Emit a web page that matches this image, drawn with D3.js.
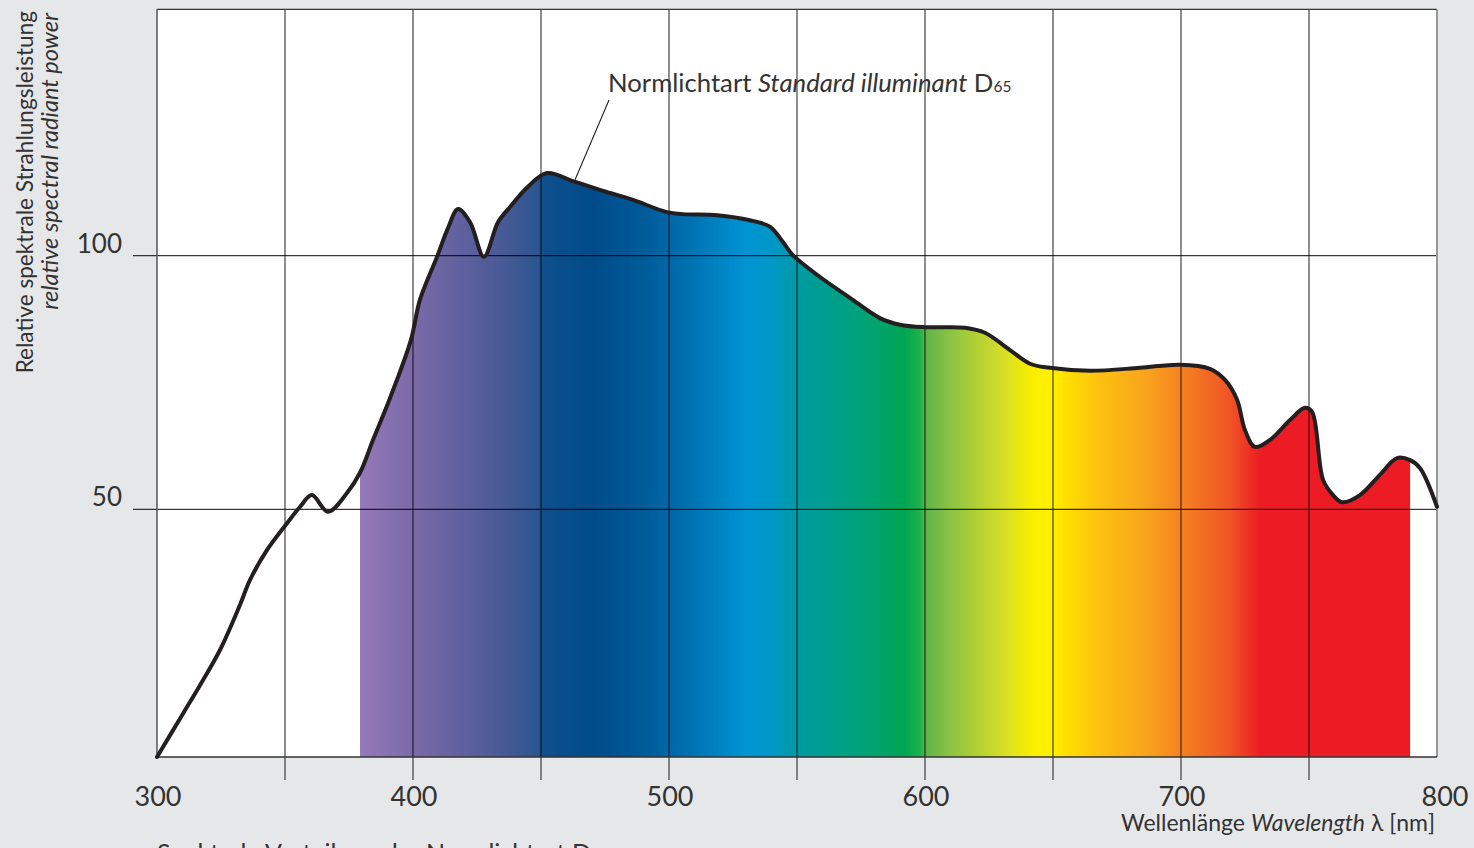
<!DOCTYPE html>
<html>
<head>
<meta charset="utf-8">
<script src="https://cdn.jsdelivr.net/npm/d3@7"></script>
<style>
  html, body { margin: 0; padding: 0; background: #e6e7e9; }
  svg { display: block; }
  text { font-family: Lato, "Open Sans", sans-serif; fill: #333; }
</style>
</head>
<body>
<svg id="chart" width="1474" height="848"></svg>
<script>
// ---- data ----
const wavelengths = [300,310.2,316.8,324.6,332.4,336.3,343,350.8,355.9,360.5,366.8,374.2,379.3,384.4,391,399.2,402.7,409.4,413.7,417.6,422.3,427.7,433.2,437.9,444.5,452.3,462.5,473,485.9,499.2,505.5,518.8,531.6,539.5,544.5,548.4,559,570.7,582.4,590.2,600,615.6,623.4,633.2,641,648.8,664.5,684,699.6,711.3,717.2,721.9,725,728.9,734.8,742.6,748.4,751.2,755.5,759.4,762.9,769.9,777.7,784.4,789.5,793.4,800];
const power = [0,8.8,14.5,21.6,30.7,35.7,41.8,47.2,50.5,52.8,49.5,53.2,57.2,63.7,71.9,83.4,91.3,99.8,105.5,109.2,106.6,99.8,106.6,109.6,113.4,116.3,114.7,113.0,111.0,108.6,108.2,108.0,107.0,105.7,102.7,100.1,95.8,91.7,87.7,86.4,85.9,85.8,84.8,81.4,78.7,77.9,77.3,77.9,78.5,77.7,75.5,71.6,65.6,62.3,63.7,67.6,70.0,69.2,55.8,52.8,51.4,52.8,56.8,60.1,59.7,58.1,50.5];

const xTickValues = [350,400,450,500,550,600,650,700,750];
const xLabelValues = [300,400,500,600,700,800];
const yTickValues = [50,100];

const visibleRange = [379.3, 789.5]; // visible-light part that is coloured
const spectrumStops = [
  [380,"#9379b8"],[400,"#7b6aa8"],[420,"#5f609e"],[440,"#3f5893"],[449,"#2a5590"],
  [451,"#0e508d"],[470,"#004b89"],[490,"#005b99"],[510,"#0074b4"],[530,"#0094d2"],
  [540,"#0097c8"],[550,"#009ba3"],[575,"#00a27a"],[592,"#00a553"],[598,"#1db34a"],
  [600,"#5eb34a"],[610,"#8cc342"],[630,"#d4dd28"],[642,"#fbef00"],[650,"#fff100"],
  [655,"#ffdf00"],[668,"#fdc110"],[688,"#f8a01f"],[700,"#f58220"],[719,"#ef5524"],
  [731,"#ed1c24"],[790,"#ed1c24"]
];

const annotationNm = 463.3;

(function () {
// ---- layout ----
const svg = d3.select("#chart");
const pLeft = 157, pRight = 1437, pTop = 9.3, pBottom = 757;

const x = d3.scaleLinear().domain([300, 800]).range([pLeft, pRight]);
const y = d3.scaleLinear().domain([0, 50, 100, 148.6]).range([pBottom, 509.3, 255.7, pTop]);

const data = wavelengths.map((w, i) => ({w, v: power[i]}));

// plot background
svg.append("rect").attr("x", pLeft).attr("y", pTop)
  .attr("width", pRight - pLeft).attr("height", pBottom - pTop).attr("fill", "#fff");

// gradient
const defs = svg.append("defs");
const grad = defs.append("linearGradient").attr("id", "spec")
  .attr("gradientUnits", "userSpaceOnUse")
  .attr("x1", x(380)).attr("x2", x(790)).attr("y1", 0).attr("y2", 0);
spectrumStops.forEach(([w, c]) => {
  grad.append("stop").attr("offset", (w - 380) / (790 - 380)).attr("stop-color", c);
});
defs.append("clipPath").attr("id", "visclip").append("rect")
  .attr("x", x(visibleRange[0])).attr("y", pTop)
  .attr("width", x(visibleRange[1]) - x(visibleRange[0])).attr("height", pBottom - pTop);

const curve = d3.curveCatmullRom.alpha(0.5);
const area = d3.area().x(d => x(d.w)).y0(y(0)).y1(d => y(d.v)).curve(curve);
const line = d3.line().x(d => x(d.w)).y(d => y(d.v)).curve(curve);

svg.append("path").datum(data).attr("d", area)
  .attr("fill", "url(#spec)").attr("clip-path", "url(#visclip)");

// grid
const grid = svg.append("g");
xTickValues.forEach(v => {
  grid.append("line").attr("x1", x(v)).attr("x2", x(v)).attr("y1", pTop).attr("y2", pBottom + 23)
    .attr("stroke", "#000").attr("stroke-opacity", 0.68).attr("stroke-width", 1.3);
});
yTickValues.forEach(v => {
  grid.append("line").attr("x1", pLeft - 24).attr("x2", pRight).attr("y1", y(v)).attr("y2", y(v))
    .attr("stroke", "#000").attr("stroke-opacity", 0.78).attr("stroke-width", 1.2);
});

// frame
svg.append("line").attr("x1", pLeft).attr("x2", pRight).attr("y1", pTop).attr("y2", pTop)
  .attr("stroke", "#333").attr("stroke-width", 1.3);
svg.append("line").attr("x1", pLeft).attr("x2", pLeft).attr("y1", pTop).attr("y2", pBottom)
  .attr("stroke", "#555").attr("stroke-width", 1.5);
svg.append("line").attr("x1", pRight).attr("x2", pRight).attr("y1", pTop).attr("y2", pBottom)
  .attr("stroke", "#999").attr("stroke-width", 2);
svg.append("line").attr("x1", pLeft).attr("x2", pRight).attr("y1", pBottom).attr("y2", pBottom)
  .attr("stroke", "#333").attr("stroke-width", 1.5);

// curve
svg.append("path").datum(data).attr("d", line)
  .attr("fill", "none").attr("stroke", "#231f20").attr("stroke-width", 4)
  .attr("stroke-linejoin", "round").attr("stroke-linecap", "round");

// x labels
svg.append("g").selectAll("text").data(xLabelValues).join("text")
  .attr("x", d => x(d) + (d === 800 ? 8 : 1)).attr("y", 806)
  .attr("text-anchor", "middle").attr("font-size", 27).text(d => d);

// y labels
svg.append("g").selectAll("text").data(yTickValues).join("text")
  .attr("x", 122).attr("y", d => y(d) - 3)
  .attr("text-anchor", "end").attr("font-size", 26).text(d => d);

// x title
const xt = svg.append("text").attr("x", 1435).attr("y", 831).attr("text-anchor", "end").attr("font-size", 23);
xt.append("tspan").text("Wellenlänge ");
xt.append("tspan").attr("font-style", "italic").text("Wavelength");
xt.append("tspan").text(" λ [nm]");

// y title
svg.append("text").attr("transform", "translate(33,11) rotate(-90)")
  .attr("text-anchor", "end").attr("font-size", 22.6)
  .text("Relative spektrale Strahlungsleistung");
svg.append("text").attr("transform", "translate(58,13) rotate(-90)")
  .attr("text-anchor", "end").attr("font-size", 23.6).attr("font-style", "italic")
  .text("relative spectral radiant power");

// annotation
const ann = svg.append("text").attr("x", 608).attr("y", 92).attr("font-size", 25.7);
ann.append("tspan").text("Normlichtart ");
ann.append("tspan").attr("font-style", "italic").text("Standard illuminant");
ann.append("tspan").text(" D");
ann.append("tspan").attr("font-size", 15.5).text("65");

const annIdx = d3.bisector(d => d).left(wavelengths, annotationNm);
const t = (annotationNm - wavelengths[annIdx - 1]) / (wavelengths[annIdx] - wavelengths[annIdx - 1]);
const annY = y(d3.interpolateNumber(power[annIdx - 1], power[annIdx])(t));
svg.append("line").attr("x1", x(annotationNm)).attr("y1", annY - 2)
  .attr("x2", 609).attr("y2", 100).attr("stroke", "#231f20").attr("stroke-width", 1.1);

// bottom caption (cut off by the frame, as in the source)
const cap = svg.append("text").attr("x", 157).attr("y", 862).attr("font-size", 25);
cap.append("tspan").text("Spektrale Verteilung der Normlichtart D");
cap.append("tspan").attr("font-size", 15).text("65");
})();
</script>
</body>
</html>
